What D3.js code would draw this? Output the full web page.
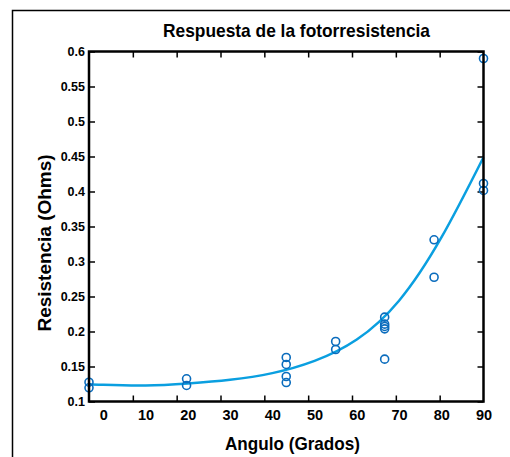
<!DOCTYPE html>
<html><head><meta charset="utf-8">
<script src="https://cdn.jsdelivr.net/npm/d3@7"></script>
<style>body{margin:0;background:#fff}svg{display:block}</style>
</head><body>
<svg id="c" width="510" height="457"></svg>
<script>
// ---- data ----
const titleText = "Respuesta de la fotorresistencia";
const xLabelText = "Angulo (Grados)";
const yLabelText = "Resistencia (Ohms)";

const pointAngles = [-3.4, -3.4, 19.7, 19.7, 43.3, 43.3, 43.3, 43.3, 55.0, 55.0,
                     66.6, 66.6, 66.6, 66.6, 66.6, 78.3, 78.3, 90, 90, 90];
const pointValues = [0.1276, 0.1196, 0.1324, 0.1229, 0.1629, 0.1529, 0.1357, 0.1271, 0.1857, 0.1743,
                     0.2205, 0.2105, 0.2072, 0.2038, 0.1605, 0.3310, 0.2775, 0.5900, 0.4115, 0.4015];

const fitAngles = [-3.4, 0, 10, 20, 30, 40, 50, 60, 70, 80, 90];
const fitValues = [0.1246, 0.1238, 0.1229, 0.1258, 0.1310, 0.1405, 0.1580, 0.1885, 0.2440, 0.3340, 0.4490];

const xDomain = [-3.4, 90];
const yDomain = [0.1, 0.6];
const xTickValues = [0, 10, 20, 30, 40, 50, 60, 70, 80, 90];
const yTickValues = [0.1, 0.15, 0.2, 0.25, 0.3, 0.35, 0.4, 0.45, 0.5, 0.55, 0.6];
const xTickSlots = [1, 2, 3, 4, 5, 6, 7, 8];   // tick marks: 9 equal intervals along the box
const xSlotDomain = [0, 9];

// ---- layout ----
const L = 89, R = 483.5, T = 51.5, B = 401.5;
const svg = d3.select("#c");

// figure frame (left + top visible)
svg.append("path").attr("d", "M12.5,457 V10.5 H510")
  .attr("fill", "none").attr("stroke", "#000").attr("stroke-width", 1.5);

const x = d3.scaleLinear().domain(xDomain).range([L, R]);
const y = d3.scaleLinear().domain(yDomain).range([B, T]);
const xs = d3.scaleLinear().domain(xSlotDomain).range([L, R]);

const narrow = "'Liberation Sans Narrow', 'Arial Narrow', 'Liberation Sans', sans-serif";
const sans = "'Liberation Sans', Arial, sans-serif";

// x tick labels
const gxl = svg.append("g").attr("transform", `translate(0,${B})`)
  .call(d3.axisBottom(x).tickValues(xTickValues).tickSize(0).tickPadding(8.5).tickFormat(d3.format("d")));
gxl.select(".domain").remove();
gxl.selectAll("text").attr("font-family", sans).attr("font-weight", "bold").attr("font-size", 14.5).attr("fill", "#000");

// x tick marks bottom & top
const gxb = svg.append("g").attr("transform", `translate(0,${B})`)
  .call(d3.axisBottom(xs).tickValues(xTickSlots).tickSize(-6).tickFormat(""));
gxb.select(".domain").remove();
const gxt = svg.append("g").attr("transform", `translate(0,${T})`)
  .call(d3.axisTop(xs).tickValues(xTickSlots).tickSize(-6).tickFormat(""));
gxt.select(".domain").remove();

// y axis left with labels
const gyl = svg.append("g").attr("transform", `translate(${L},0)`)
  .call(d3.axisLeft(y).tickValues(yTickValues).tickSize(-6).tickPadding(4).tickFormat(d => String(d)));
gyl.select(".domain").remove();
gyl.selectAll("text").attr("font-family", narrow).attr("font-weight", "bold").attr("font-size", 12.5).attr("fill", "#000");
const gyr = svg.append("g").attr("transform", `translate(${R},0)`)
  .call(d3.axisRight(y).tickValues(yTickValues).tickSize(-6).tickFormat(""));
gyr.select(".domain").remove();

svg.selectAll(".tick line").attr("stroke", "#000").attr("stroke-width", 1.5);

// fitted curve
const line = d3.line().x((d, i) => x(fitAngles[i])).y((d, i) => y(fitValues[i])).curve(d3.curveNatural);
svg.append("path").datum(fitValues).attr("d", line)
  .attr("fill", "none").attr("stroke", "#0a9fe0").attr("stroke-width", 2.5);

// data points
svg.append("g").selectAll("circle").data(pointValues).join("circle")
  .attr("cx", (d, i) => x(pointAngles[i])).attr("cy", d => y(d)).attr("r", 4)
  .attr("fill", "none").attr("stroke", "#0a6cbd").attr("stroke-width", 1.6);

// axes box
svg.append("rect").attr("x", L).attr("y", T).attr("width", R - L).attr("height", B - T)
  .attr("fill", "none").attr("stroke", "#000").attr("stroke-width", 2.5);

// titles
svg.append("text").attr("x", 296.5).attr("y", 36.7).attr("text-anchor", "middle")
  .attr("font-family", sans).attr("font-weight", "bold").attr("font-size", 18.5)
  .attr("textLength", 267).attr("lengthAdjust", "spacingAndGlyphs").text(titleText);
svg.append("text").attr("x", 292.5).attr("y", 449.5).attr("text-anchor", "middle")
  .attr("font-family", sans).attr("font-weight", "bold").attr("font-size", 18.5)
  .attr("textLength", 135).attr("lengthAdjust", "spacingAndGlyphs").text(xLabelText);
svg.append("text").attr("transform", "translate(50.7,243) rotate(-90)").attr("text-anchor", "middle")
  .attr("font-family", sans).attr("font-weight", "bold").attr("font-size", 18.5)
  .attr("textLength", 177).attr("lengthAdjust", "spacingAndGlyphs").text(yLabelText);
</script>
</body></html>
